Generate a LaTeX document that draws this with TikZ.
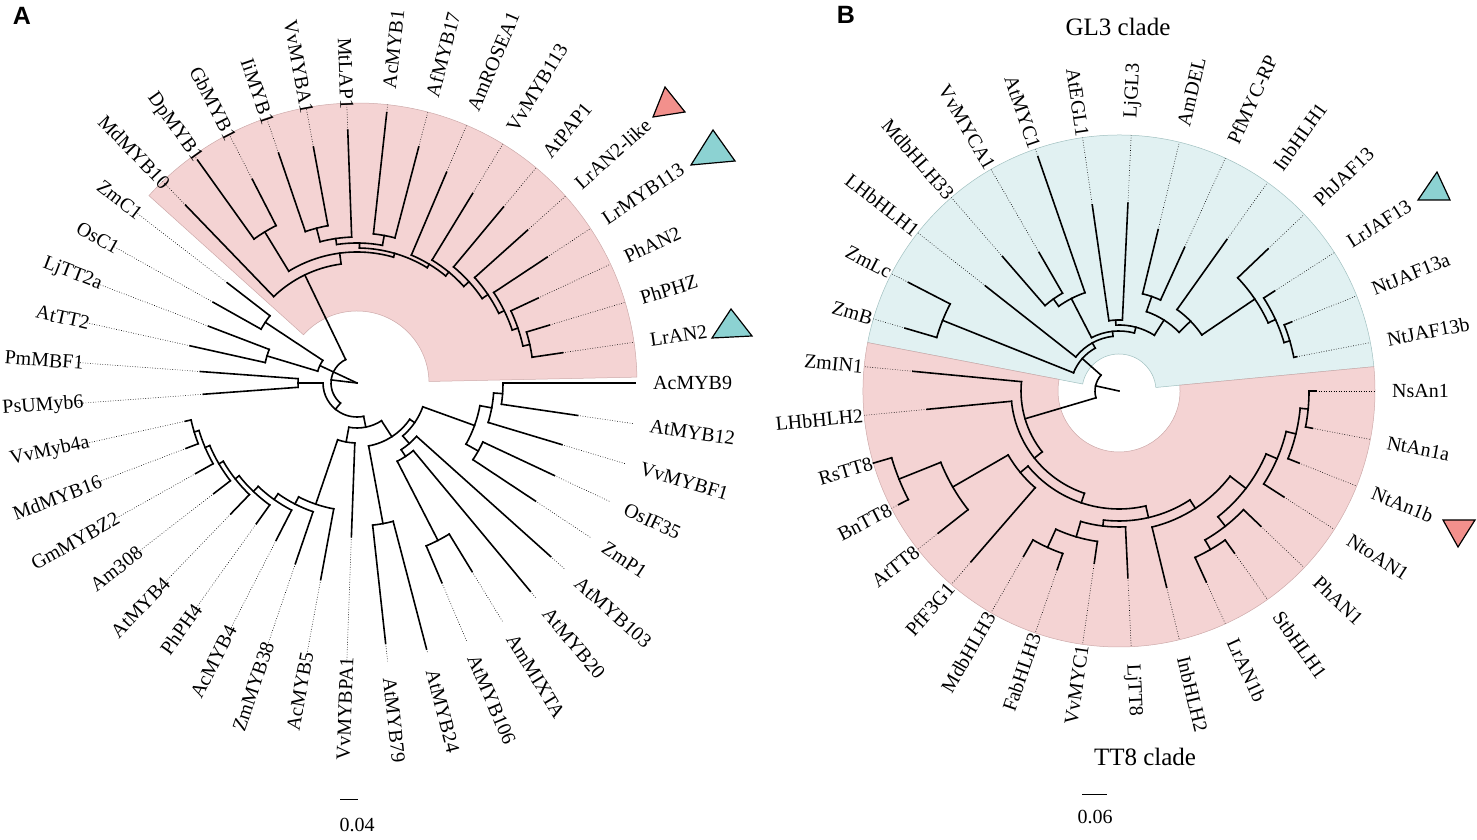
\documentclass[tikz,border=0pt]{standalone}
\usepackage{fontspec}
\setmainfont{Liberation Serif}
\newfontfamily\panelfont{Liberation Sans}
\definecolor{hlpink}{RGB}{244,211,211}
\definecolor{hlblue}{RGB}{225,241,242}
\definecolor{pinkedge}{RGB}{205,170,170}
\definecolor{blueedge}{RGB}{160,192,192}
\definecolor{trired}{RGB}{242,144,140}
\definecolor{triteal}{RGB}{140,210,210}
\tikzset{
  br/.style={line width=1.6pt, line cap=rect},
  dt/.style={line width=0.6pt, dash pattern=on 0.7pt off 1.8pt},
  lab/.style={font=\fontsize{20}{22}\selectfont, inner sep=0pt},
  tri/.style={line width=1.2pt, line join=miter},
}
% leaf: index, base radius, tip radius
\newcommand{\leaf}[3]{%
  \draw[br] ({#1*\pu}:#2) -- ({#1*\pu}:#3);
  \draw[dt] ({#1*\pu}:#3) -- ({#1*\pu}:\Rout);}
% stem of an inner node: position, from, to
\newcommand{\stm}[3]{\draw[br] ({#1*\pu}:#2) -- ({#1*\pu}:#3);}
% arc of an inner node: radius, from, to
\newcommand{\cld}[3]{\draw[br] ({#2*\pu}:#1) arc[start angle={#2*\pu}, end angle={#3*\pu}, radius=#1];}

\begin{document}
\begin{tikzpicture}[x=1pt, y=1pt]
  \useasboundingbox (0,0) rectangle (1477,840);

  % ---- panel A ----
  \node at (22,824) {\panelfont\fontsize{25}{25}\selectfont\bfseries A};
  \begin{scope}[shift={(357,457)}]
    \pgfmathsetmacro{\pu}{360/43}
    \def\Rout{280}
    \fill[hlpink, draw=pinkedge, line width=0.5pt] (1.2:72) -- (1.2:280)
      arc[start angle=1.2, end angle=138, radius=280] -- (138:72)
      arc[start angle=138, end angle=1.2, radius=72] -- cycle;

    % root
    \stm{18.5}{0}{41} \cld{41}{17.5}{19.5}
    \stm{17.5}{41}{110} \cld{110}{17}{18} \leaf{17}{110}{164} \leaf{18}{110}{165}
    \stm{19.5}{41}{94} \cld{94}{19}{20} \leaf{19}{94}{159} \leaf{20}{94}{171}
    \stm{20.688}{0}{26} \cld{26}{13.829}{27.547}
    % anthocyanin clade
    \stm{13.829}{26}{120} \cld{120}{11.658}{16} \leaf{16}{120}{247}
    \stm{11.658}{120}{131} \cld{131}{8.816}{14.5}
    \stm{14.5}{131}{177} \cld{177}{14}{15} \leaf{14}{177}{229} \leaf{15}{177}{274}
    \stm{8.816}{131}{135} \cld{135}{7.008}{10.625}
    \stm{10.625}{135}{140} \cld{140}{9.5}{11.75}
    \stm{9.5}{140}{150} \cld{150}{9}{10} \leaf{9}{150}{244} \leaf{10}{150}{272}
    \stm{11.75}{140}{146} \cld{146}{11}{12.5} \leaf{11}{146}{253}
    \stm{12.5}{146}{160} \cld{160}{12}{13} \leaf{12}{160}{240} \leaf{13}{160}{243}
    \stm{7.008}{135}{139} \cld{139}{6.016}{8} \leaf{8}{139}{229}
    \stm{6.016}{139}{144} \cld{144}{5.031}{7} \leaf{7}{144}{222}
    \stm{5.031}{144}{151} \cld{151}{4.063}{6} \leaf{6}{151}{229}
    \stm{4.063}{151}{158} \cld{158}{3.125}{5} \leaf{5}{158}{229}
    \stm{3.125}{158}{164} \cld{164}{2.25}{4} \leaf{4}{164}{228}
    \stm{2.25}{164}{170} \cld{170}{1.5}{3} \leaf{3}{170}{200}
    \stm{1.5}{170}{177} \cld{177}{1}{2} \leaf{1}{177}{208} \leaf{2}{177}{201}
    % rest
    \stm{27.547}{26}{34} \cld{34}{21.5}{33.595}
    \stm{21.5}{34}{59} \cld{59}{21}{22} \leaf{21}{59}{157} \leaf{22}{59}{154}
    \stm{33.595}{34}{45} \cld{45}{31.002}{36.188}
    \stm{31.002}{45}{60} \cld{60}{30.004}{32} \leaf{32}{60}{154}
    \stm{30.004}{60}{128} \cld{128}{29.008}{31} \leaf{31}{128}{200}
    \stm{29.008}{128}{136} \cld{136}{28.016}{30} \leaf{30}{136}{191}
    \stm{28.016}{136}{143} \cld{143}{27.031}{29} \leaf{29}{143}{177}
    \stm{27.031}{143}{150} \cld{150}{26.063}{28} \leaf{28}{150}{173}
    \stm{26.063}{150}{155} \cld{155}{25.125}{27} \leaf{27}{155}{182}
    \stm{25.125}{155}{160} \cld{160}{24.25}{26} \leaf{26}{160}{181}
    \stm{24.25}{160}{165} \cld{165}{23.5}{25} \leaf{25}{165}{185}
    \stm{23.5}{165}{170} \cld{170}{23}{24} \leaf{23}{170}{176} \leaf{24}{170}{183}
    \stm{36.188}{45}{64} \cld{64}{33.5}{38.875}
    \stm{33.5}{64}{143} \cld{143}{33}{34} \leaf{33}{143}{262} \leaf{34}{143}{275}
    \stm{38.875}{64}{70} \cld{70}{37.125}{40.625}
    \stm{37.125}{70}{80} \cld{80}{36.25}{38} \leaf{38}{80}{260}
    \stm{36.25}{80}{88} \cld{88}{35.5}{37} \leaf{37}{88}{271}
    \stm{35.5}{88}{177} \cld{177}{35}{36} \leaf{35}{177}{217} \leaf{36}{177}{221}
    \stm{40.625}{70}{125} \cld{125}{39.5}{41.75}
    \stm{39.5}{125}{139} \cld{139}{39}{40} \leaf{39}{139}{214} \leaf{40}{139}{218}
    \stm{41.75}{125}{137} \cld{137}{41}{42.5} \leaf{41}{137}{214}
    \stm{42.5}{137}{146} \cld{146}{42}{43} \leaf{42}{146}{223} \leaf{43}{146}{278}

    \foreach \nm [count=\i from 0] in {AcMYB9, LrAN2, PhPHZ, PhAN2, LrMYB113,
        LrAN2-like, AtPAP1, VvMYB113, AmROSEA1, AfMYB17, AcMYB1, MtLAP1, VvMYBA1,
        IiMYB1, GbMYB1, DpMYB1, MdMYB10, ZmC1, OsC1, LjTT2a, AtTT2, PmMBF1,
        PsUMyb6, VvMyb4a, MdMYB16, GmMYBZ2, Am308, AtMYB4, PhPH4, AcMYB4,
        ZmMYB38, AcMYB5, VvMYBPA1, AtMYB79, AtMYB24, AtMYB106, AmMIXTA, AtMYB20,
        AtMYB103, ZmP1, OsIF35, VvMYBF1, AtMYB12}{
      \pgfmathsetmacro{\ang}{\i*\pu}
      \pgfmathtruncatemacro{\lft}{(\ang>90)&&(\ang<270)}
      \ifnum\lft=1
        \node[lab, anchor=east, rotate=\ang+180] (a\i) at (\ang:274) {\nm};
      \else
        \node[lab, anchor=west, rotate=\ang] (a\i) at (\ang:296) {\nm};
      \fi
    }
  \end{scope}
  \draw[tri, fill=trired] (653,723) -- (665,753) -- (685,728) -- cycle;
  \draw[tri, fill=triteal] (691,675) -- (713,710) -- (735,679) -- cycle;
  \draw[tri, fill=triteal] (712,502) -- (731,531) -- (752,504) -- cycle;
  \draw[line width=1pt] (340,40) -- (358,40);
  \node at (357,15) [font=\fontsize{20}{22}\selectfont] {0.04};

  % ---- panel B ----
  \node at (846,825) {\panelfont\fontsize{25}{25}\selectfont\bfseries B};
  \node at (1118,813) [font=\fontsize{25}{28}\selectfont] {GL3 clade};
  \node at (1145,83) [font=\fontsize{25}{28}\selectfont] {TT8 clade};
  \begin{scope}[shift={(1119,449)}]
    \pgfmathsetmacro{\pu}{360/33}
    \def\Rout{256}
    \fill[hlblue, draw=blueedge, line width=0.5pt] (5.45:37) -- (5.45:256)
      arc[start angle=5.45, end angle=169.1, radius=256] -- (169.1:37)
      arc[start angle=169.1, end angle=5.45, radius=37] -- cycle;
    \fill[hlpink, draw=pinkedge, line width=0.5pt] (169.1:61) -- (169.1:256)
      arc[start angle=169.1, end angle=365.45, radius=256] -- (365.45:61)
      arc[start angle=365.45, end angle=169.1, radius=61] -- cycle;

    \stm{15.36}{0}{24} \cld{24}{12.705}{18.01}
    % GL3 clade
    \stm{12.705}{24}{49} \cld{49}{10.91}{14.5}
    \stm{14.5}{49}{190} \cld{190}{14}{15} \leaf{14}{190}{237} \leaf{15}{190}{223}
    \stm{10.91}{49}{55} \cld{55}{8.82}{13} \leaf{13}{55}{170}
    \stm{8.82}{55}{60} \cld{60}{6.891}{10.75}
    \stm{10.75}{60}{104} \cld{104}{10}{11.5} \leaf{10}{104}{248}
    \stm{11.5}{104}{113} \cld{113}{11}{12} \leaf{11}{113}{160} \leaf{12}{113}{178}
    \stm{6.891}{60}{66} \cld{66}{5.281}{8.5}
    \stm{8.5}{66}{71} \cld{71}{8}{9} \leaf{8}{71}{188} \leaf{9}{71}{188}
    \stm{5.281}{66}{84} \cld{84}{4.063}{6.5}
    \stm{6.5}{84}{100} \cld{100}{6}{7} \leaf{6}{100}{158} \leaf{7}{100}{166}
    \stm{4.063}{84}{100} \cld{100}{3.125}{5} \leaf{5}{100}{186}
    \stm{3.125}{100}{164} \cld{164}{2.25}{4} \leaf{4}{164}{206}
    \stm{2.25}{164}{172} \cld{172}{1.5}{3} \leaf{3}{172}{185}
    \stm{1.5}{172}{178} \cld{178}{1}{2} \leaf{1}{178}{181} \leaf{2}{178}{186}
    % TT8 clade
    \stm{18.01}{24}{98} \cld{98}{16}{20.02} \leaf{16}{98}{207}
    \stm{20.02}{98}{108} \cld{108}{17}{23.039} \leaf{17}{108}{193}
    \stm{23.039}{108}{118} \cld{118}{20.125}{25.953}
    \stm{20.125}{118}{128} \cld{128}{19.25}{21} \leaf{21}{128}{226}
    \stm{19.25}{128}{192} \cld{192}{18.5}{20} \leaf{20}{192}{230}
    \stm{18.5}{192}{237} \cld{237}{18}{19} \leaf{18}{237}{256} \leaf{19}{237}{248}
    \stm{25.953}{118}{130} \cld{130}{24.125}{27.781}
    \stm{24.125}{130}{136} \cld{136}{23.25}{25} \leaf{25}{136}{187}
    \stm{23.25}{136}{152} \cld{152}{22.5}{24} \leaf{24}{152}{174}
    \stm{22.5}{152}{172} \cld{172}{22}{23} \leaf{22}{172}{191} \leaf{23}{172}{189}
    \stm{27.781}{130}{140} \cld{140}{26}{29.563} \leaf{26}{140}{202}
    \stm{29.563}{140}{160} \cld{160}{28.25}{30.875}
    \stm{28.25}{160}{172} \cld{172}{27.5}{29} \leaf{29}{172}{196}
    \stm{27.5}{172}{183} \cld{183}{27}{28} \leaf{27}{183}{210} \leaf{28}{183}{199}
    \stm{30.875}{160}{172} \cld{172}{30}{31.75} \leaf{30}{172}{196}
    \stm{31.75}{172}{182} \cld{182}{31}{32.5} \leaf{31}{182}{194}
    \stm{32.5}{182}{190} \cld{190}{32}{33} \leaf{32}{190}{197} \leaf{33}{190}{197}

    \foreach \nm [count=\i from 0] in {NsAn1, NtJAF13b, NtJAF13a, LrJAF13,
        PhJAF13, InbHLH1, PfMYC-RP, AmDEL, LjGL3, AtEGL1, AtMYC1, VvMYCA1,
        MdbHLH33, LHbHLH1, ZmLc, ZmB, ZmIN1, LHbHLH2, RsTT8, BnTT8, AtTT8,
        PfF3G1, MdbHLH3, FabHLH3, VvMYC1, LjTT8, InbHLH2, LrAN1b, StbHLH1,
        PhAN1, NtoAN1, NtAn1b, NtAn1a}{
      \pgfmathsetmacro{\ang}{\i*\pu}
      \pgfmathtruncatemacro{\lft}{(\ang>90)&&(\ang<270)}
      \ifnum\lft=1
        \node[lab, anchor=east, rotate=\ang+180] (b\i) at (\ang:257) {\nm};
      \else
        \node[lab, anchor=west, rotate=\ang] (b\i) at (\ang:273) {\nm};
      \fi
    }
  \end{scope}
  \draw[tri, fill=triteal] (1418,640) -- (1437,668) -- (1450,640) -- cycle;
  \draw[tri, fill=trired] (1443,320) -- (1475,320) -- (1458,293) -- cycle;
  \draw[line width=1pt] (1082,45) -- (1107,45);
  \node at (1095,23) [font=\fontsize{20}{22}\selectfont] {0.06};
\end{tikzpicture}
\end{document}
